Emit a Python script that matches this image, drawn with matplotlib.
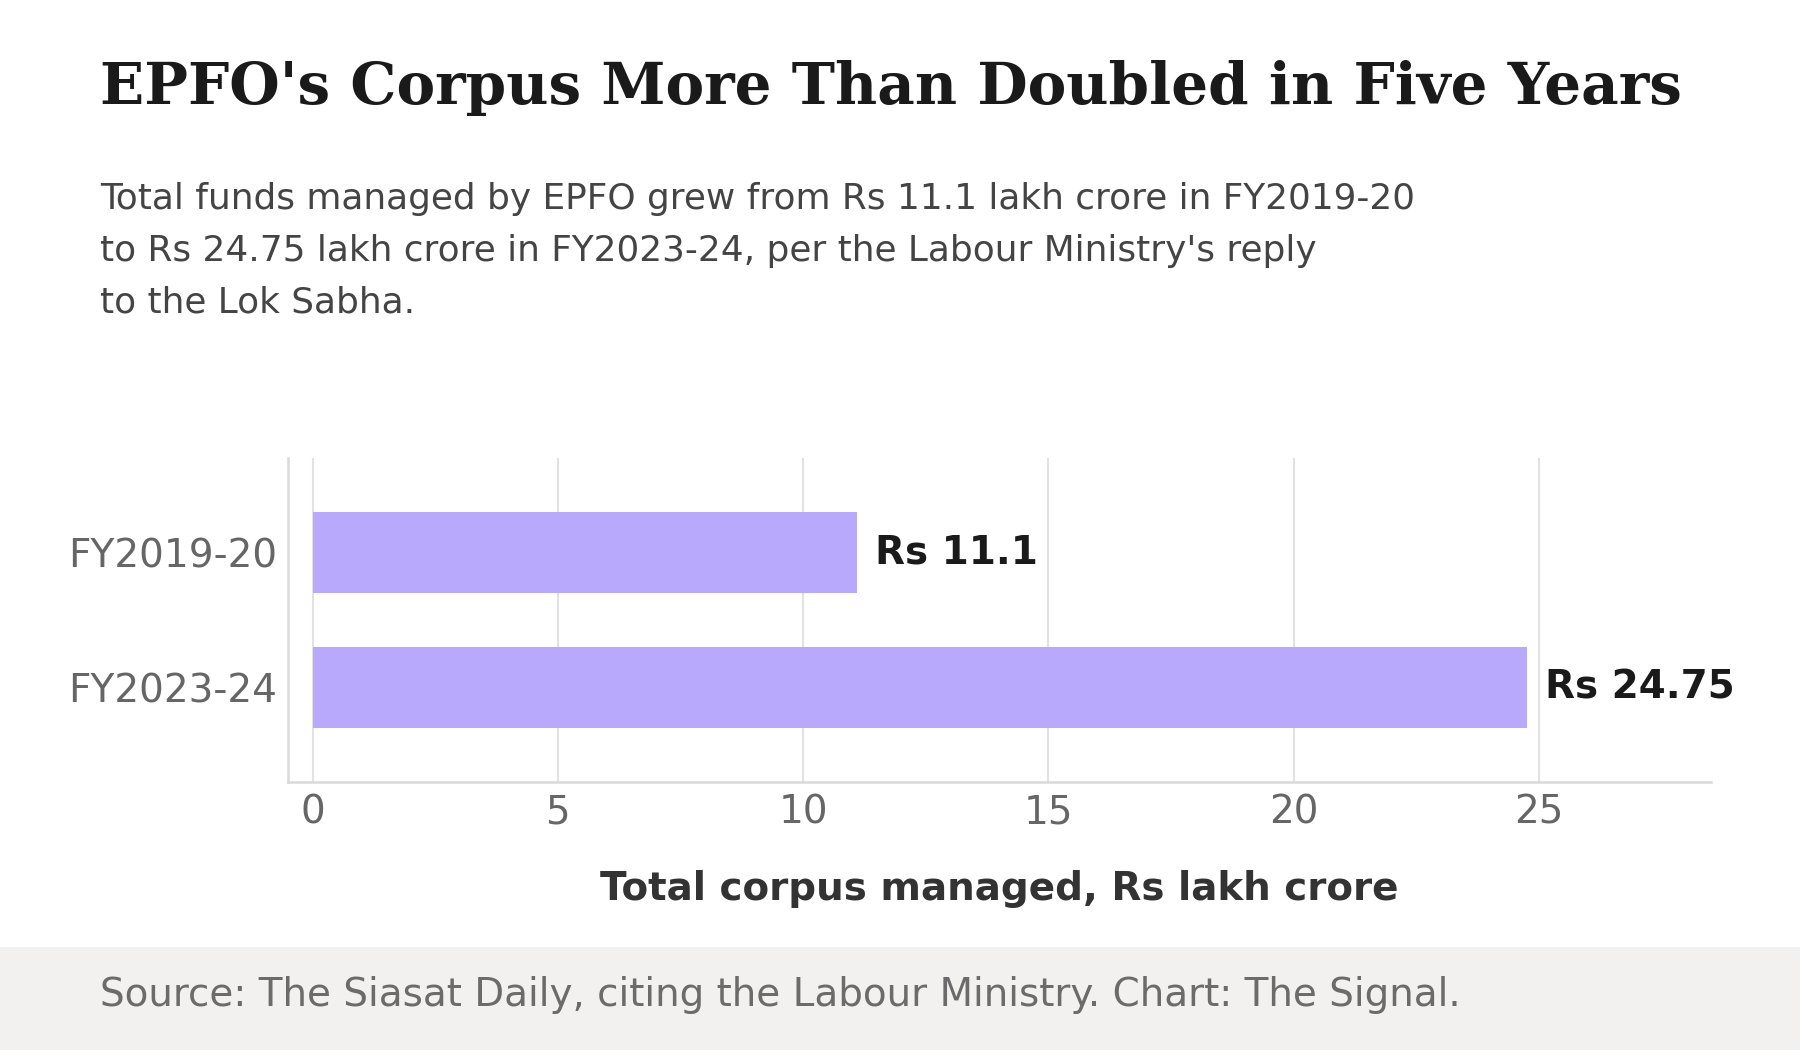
import matplotlib.pyplot as plt
from matplotlib.patches import Rectangle

# data
years = ['FY2019-20', 'FY2023-24']
corpus = [11.1, 24.75]
value_labels = ['Rs 11.1', 'Rs 24.75']
xticks = [0, 5, 10, 15, 20, 25]

bar_color = '#b8a9fc'

fig = plt.figure(figsize=(18, 10.5), dpi=100)
fig.patch.set_facecolor('white')

# footer band
fig.patches.append(Rectangle((0, 0), 1, 1 - 947 / 1050, transform=fig.transFigure,
                             facecolor='#f2f1f0', edgecolor='none', zorder=0))

ax = fig.add_axes([0.16, 0.2552, 0.7904, 0.3086])
ypos = list(range(len(years)))
ax.barh(ypos, corpus, height=0.6, color=bar_color, zorder=2)
for y, v, lab in zip(ypos, corpus, value_labels):
    ax.annotate(lab, xy=(v, y), xytext=(13, 0), textcoords='offset points',
                va='center', ha='left', fontsize=28, fontweight='bold', color='#1a1a1a')

ax.set_yticks(ypos)
ax.set_yticklabels(years)
ax.set_xticks(xticks)
ax.set_xlim(-0.5, 28.5)
ax.set_ylim(1.7, -0.7)
ax.tick_params(axis='both', length=0, labelsize=28, labelcolor='#666666')
ax.tick_params(axis='x', pad=8)
ax.tick_params(axis='y', pad=8)
ax.grid(axis='x', color='#e2e2e2', linewidth=1.5, zorder=0)
ax.set_axisbelow(True)
for s in ['top', 'right']:
    ax.spines[s].set_visible(False)
for s in ['left', 'bottom']:
    ax.spines[s].set_color('#d9d9d9')
    ax.spines[s].set_linewidth(1.8)
ax.set_xlabel('Total corpus managed, Rs lakh crore', fontsize=28, fontweight='bold',
              color='#333333', labelpad=28)

fig.text(100 / 1800, 1 - 88 / 1050, "EPFO's Corpus More Than Doubled in Five Years",
         family='DejaVu Serif', fontweight='bold', fontsize=41.8, color='#1a1a1a',
         va='center', ha='left')
fig.text(100 / 1800, 1 - 182 / 1050,
         "Total funds managed by EPFO grew from Rs 11.1 lakh crore in FY2019-20\n"
         "to Rs 24.75 lakh crore in FY2023-24, per the Labour Ministry's reply\n"
         "to the Lok Sabha.",
         fontsize=25.8, color='#444444', va='top', ha='left', linespacing=1.66)
fig.text(100 / 1800, 1 - 995 / 1050,
         "Source: The Siasat Daily, citing the Labour Ministry. Chart: The Signal.",
         fontsize=28, color='#6b6b6b', va='center', ha='left')

fig.savefig('out.png', dpi=100)
